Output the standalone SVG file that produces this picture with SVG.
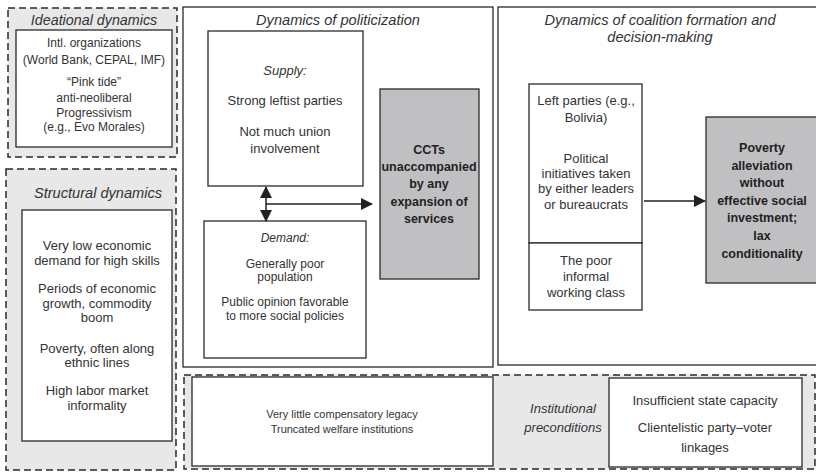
<svg xmlns="http://www.w3.org/2000/svg" width="816" height="472" viewBox="0 0 816 472">
<defs>
<style>
.dash{fill:#e8e8e9;stroke:#2a2a2a;stroke-width:1.5;stroke-dasharray:7 4}
.box{fill:#fff;stroke:#2a2a2a;stroke-width:1.3}
.gbox{fill:#c0c0c2;stroke:#2a2a2a;stroke-width:1.3}
text{font-family:"Liberation Sans",Arial,sans-serif;fill:#333;text-anchor:middle}
.t{font-size:13px}
.s{font-size:12px}
.xs{font-size:11px}
.it{font-style:italic;font-size:14.6px}
.b{font-weight:bold;font-size:12.5px;fill:#222}
.ln{stroke:#222;stroke-width:1.5;fill:none}
</style>
<marker id="ah" markerWidth="12" markerHeight="12" refX="11" refY="6" orient="auto-start-reverse" markerUnits="userSpaceOnUse">
<path d="M0,0 L12,6 L0,12 Z" fill="#222"/>
</marker>
</defs>

<g id="ideational">
<rect class="dash" x="8" y="8" width="169" height="149"/>
<text class="it" x="94" y="25" style="font-size:14.3px">Ideational dynamics</text>
<rect class="box" x="16" y="30" width="156" height="117"/>
<text class="s" x="94" y="47">Intl. organizations</text>
<text class="s" x="94" y="64">(World Bank, CEPAL, IMF)</text>
<text class="s" x="94" y="86">“Pink tide”</text>
<text class="s" x="94" y="102">anti-neoliberal</text>
<text class="s" x="94" y="117">Progressivism</text>
<text class="s" x="94" y="131">(e.g., Evo Morales)</text>
</g>

<g id="structural">
<rect class="dash" x="6" y="169" width="170" height="301"/>
<text class="it" x="98" y="198">Structural dynamics</text>
<rect class="box" x="22" y="210" width="150" height="231"/>
<text class="t" x="97" y="250">Very low economic</text>
<text class="t" x="97" y="265">demand for high skills</text>
<text class="t" x="97" y="293">Periods of economic</text>
<text class="t" x="97" y="308">growth, commodity</text>
<text class="t" x="97" y="322">boom</text>
<text class="t" x="97" y="353">Poverty, often along</text>
<text class="t" x="97" y="367">ethnic lines</text>
<text class="t" x="97" y="395">High labor market</text>
<text class="t" x="97" y="410">informality</text>
</g>

<g id="politicization">
<rect class="box" x="183" y="7" width="310" height="360"/>
<text class="it" x="338" y="25">Dynamics of politicization</text>
</g>

<g id="supply">
<rect class="box" x="208" y="31" width="155" height="155"/>
<text class="t" x="285" y="75" font-style="italic">Supply:</text>
<text class="t" x="285" y="105">Strong leftist parties</text>
<text class="t" x="285" y="136">Not much union</text>
<text class="t" x="285" y="153">involvement</text>
</g>

<g id="demand">
<rect class="box" x="204" y="221" width="162" height="137"/>
<text class="s" x="285" y="242" font-style="italic">Demand:</text>
<text class="s" x="285" y="268">Generally poor</text>
<text class="s" x="285" y="281">population</text>
<text class="s" x="285" y="306">Public opinion favorable</text>
<text class="s" x="285" y="320">to more social policies</text>
</g>

<g id="ccts">
<rect class="gbox" x="380" y="89" width="99" height="190"/>
<text class="b" x="429" y="154">CCTs</text>
<text class="b" x="429" y="171">unaccompanied</text>
<text class="b" x="429" y="188">by any</text>
<text class="b" x="429" y="206">expansion of</text>
<text class="b" x="429" y="223">services</text>
</g>

<g id="coalition">
<rect class="box" x="498" y="7" width="322" height="358"/>
<text class="it" x="660" y="25">Dynamics of coalition formation and</text>
<text class="it" x="660" y="42">decision-making</text>
</g>

<g id="leftparties">
<rect class="box" x="529" y="84" width="113" height="159"/>
<text class="t" x="586" y="105">Left parties (e.g.,</text>
<text class="t" x="586" y="122">Bolivia)</text>
<text class="t" x="586" y="163">Political</text>
<text class="t" x="586" y="178">initiatives taken</text>
<text class="t" x="586" y="193">by either leaders</text>
<text class="t" x="586" y="209">or bureaucrats</text>
</g>

<g id="poor">
<rect class="box" x="529" y="243" width="113" height="67"/>
<text class="t" x="586" y="265">The poor</text>
<text class="t" x="586" y="281">informal</text>
<text class="t" x="586" y="297">working class</text>
</g>

<g id="poverty">
<rect class="gbox" x="706" y="117" width="114" height="166"/>
<text class="b" x="762" y="152">Poverty</text>
<text class="b" x="762" y="170">alleviation</text>
<text class="b" x="762" y="187">without</text>
<text class="b" x="762" y="205">effective social</text>
<text class="b" x="762" y="222">investment;</text>
<text class="b" x="762" y="240">lax</text>
<text class="b" x="762" y="258">conditionality</text>
</g>

<g id="institutional">
<rect class="dash" x="184" y="375" width="631" height="94"/>
<rect class="box" x="192" y="377" width="301" height="89"/>
<text class="xs" x="342" y="418">Very little compensatory legacy</text>
<text class="xs" x="342" y="433">Truncated welfare institutions</text>
<text class="it" x="563" y="413" style="font-size:13px">Institutional</text>
<text class="it" x="563" y="432" style="font-size:13px">preconditions</text>
<rect class="box" x="609" y="378" width="193" height="89"/>
<text class="t" x="705" y="405">Insufficient state capacity</text>
<text class="t" x="705" y="432">Clientelistic party–voter</text>
<text class="t" x="705" y="452">linkages</text>
</g>

<g id="connectors">
<line class="ln" x1="266" y1="187" x2="266" y2="221" marker-start="url(#ah)" marker-end="url(#ah)"/>
<line class="ln" x1="266" y1="204" x2="372" y2="204" marker-end="url(#ah)"/>
<line class="ln" x1="644" y1="201" x2="705" y2="201" marker-end="url(#ah)"/>
</g>
</svg>
